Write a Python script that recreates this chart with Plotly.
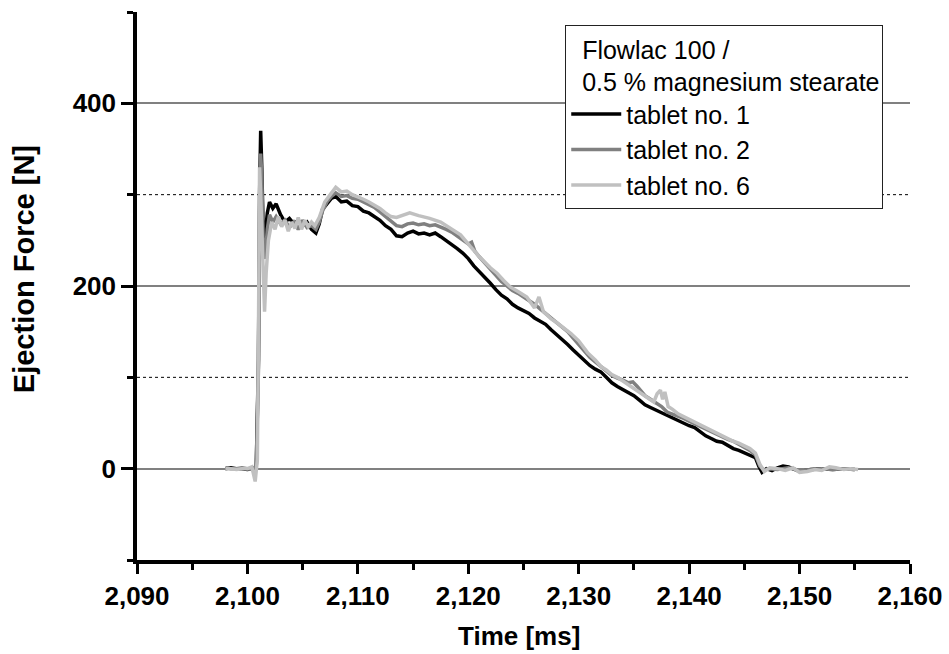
import plotly.graph_objects as go

# ---------------- data ----------------
t1 = [2098.0, 2098.5, 2099.0, 2099.5, 2100.0, 2100.5, 2100.8, 2101.0, 2101.1, 2101.2, 2101.3, 2101.45,
      2101.6, 2101.8, 2102.0, 2102.3, 2102.6, 2103.0, 2103.4, 2103.8, 2104.2, 2104.6, 2105.0, 2105.4,
      2105.8, 2106.2, 2106.5, 2106.8, 2107.2, 2107.6, 2108.0, 2108.5, 2109.0, 2109.5, 2110.0, 2110.5,
      2111.0, 2111.5, 2112.0, 2112.5, 2113.0, 2113.5, 2114.0, 2114.5, 2115.0, 2115.5, 2116.0, 2116.5,
      2117.0, 2117.5, 2118.0, 2118.5, 2119.0, 2119.5, 2120.0, 2120.5, 2121.0, 2121.5, 2122.0, 2122.5,
      2123.0, 2123.5, 2124.0, 2124.5, 2125.0, 2125.5, 2126.0, 2126.5, 2127.0, 2127.5, 2128.0, 2128.5,
      2129.0, 2129.5, 2130.0, 2130.5, 2131.0, 2131.5, 2132.0, 2132.5, 2133.0, 2133.5, 2134.0, 2134.5,
      2135.0, 2135.5, 2136.0, 2136.5, 2137.0, 2137.5, 2138.0, 2138.5, 2139.0, 2139.5, 2140.0, 2140.5,
      2141.0, 2141.5, 2142.0, 2142.5, 2143.0, 2143.5, 2144.0, 2144.5, 2145.0, 2145.5, 2146.0, 2146.3,
      2146.6, 2147.0, 2147.5, 2148.0, 2148.5, 2149.0, 2149.5, 2150.0, 2150.5, 2151.0, 2152.0, 2153.0,
      2154.0, 2155.0]
f1 = [0, 1, 0, 0, -1, 0, 2, 120, 300, 370, 330, 250,
      255, 280, 292, 285, 290, 278, 270, 274, 268, 272, 266, 270,
      262, 258, 268, 284, 290, 296, 298, 292, 293, 288, 287, 282,
      280, 276, 272, 266, 262, 255, 254, 258, 260, 257, 258, 256,
      258, 254, 250, 246, 241, 236, 230, 222, 216, 210, 203, 196,
      190, 186, 180, 176, 173, 170, 165, 162, 158, 152, 147, 142,
      136, 130, 124, 118, 113, 109, 106, 100, 94, 90, 87, 84,
      80, 75, 70, 67, 64, 61, 58, 56, 52, 50, 47, 45,
      40, 36, 33, 30, 29, 25, 22, 20, 17, 14, 12, 3,
      -4, 0, -2, 1, 3, 2, -1, -3, -2, -1, 0, -1,
      0, -1]

t2 = [2098.0, 2098.5, 2099.0, 2099.5, 2100.0, 2100.5, 2100.8, 2101.0, 2101.1, 2101.2, 2101.3, 2101.45,
      2101.6, 2101.8, 2102.0, 2102.3, 2102.6, 2103.0, 2103.4, 2103.8, 2104.2, 2104.6, 2105.0, 2105.4,
      2105.8, 2106.2, 2106.5, 2106.8, 2107.2, 2107.6, 2108.0, 2108.5, 2109.0, 2109.5, 2110.0, 2110.5,
      2111.0, 2111.5, 2112.0, 2112.5, 2113.0, 2113.5, 2114.0, 2114.5, 2115.0, 2115.5, 2116.0, 2116.5,
      2117.0, 2117.5, 2118.0, 2118.5, 2119.0, 2119.5, 2120.0, 2120.3, 2120.6, 2121.0, 2121.5, 2122.0,
      2122.5, 2123.0, 2123.5, 2124.0, 2124.5, 2125.0, 2125.5, 2126.0, 2126.5, 2127.0, 2127.5, 2128.0,
      2128.5, 2129.0, 2129.5, 2130.0, 2130.5, 2131.0, 2131.5, 2132.0, 2132.5, 2133.0, 2133.5, 2134.0,
      2134.5, 2134.9, 2135.3, 2135.7, 2136.0, 2136.5, 2137.0, 2137.5, 2138.0, 2138.5, 2139.0, 2139.5,
      2140.0, 2140.5, 2141.0, 2141.5, 2142.0, 2142.5, 2143.0, 2143.5, 2144.0, 2144.5, 2145.0, 2145.5,
      2146.0, 2146.4, 2146.8, 2147.2, 2148.0, 2149.0, 2150.0, 2151.0, 2152.0, 2153.0, 2154.0, 2155.0]
f2 = [1, 0, 0, 1, 0, -1, 3, 110, 280, 345, 320, 235,
      230, 262, 278, 270, 276, 268, 272, 264, 270, 262, 272, 264,
      266, 262, 270, 282, 292, 298, 302, 298, 299, 296, 295, 292,
      290, 286, 281, 276, 271, 266, 265, 268, 269, 267, 268, 266,
      267, 265, 262, 259, 255, 250, 246, 248, 238, 232, 225, 218,
      212, 205, 200, 195, 192, 188, 185, 180, 175, 170, 165, 160,
      155, 150, 143, 136, 129, 122, 117, 112, 107, 102, 99, 97,
      94, 95, 90, 85, 80, 76, 72, 68, 62, 60, 57, 55,
      52, 49, 46, 43, 40, 37, 34, 32, 30, 27, 24, 20,
      15, 3, -2, 0, -1, 1, -2, -1, 0, -1, 0, -1]

t6 = [2098.0, 2098.5, 2099.0, 2099.5, 2100.0, 2100.4, 2100.7, 2100.9, 2101.0, 2101.1, 2101.2, 2101.35,
      2101.55, 2101.7, 2101.9, 2102.2, 2102.5, 2102.8, 2103.1, 2103.4, 2103.7, 2104.0, 2104.3, 2104.6,
      2104.9, 2105.2, 2105.5, 2105.8, 2106.1, 2106.5, 2107.0, 2107.5, 2108.0, 2108.5, 2109.0, 2109.5,
      2110.0, 2110.5, 2111.0, 2111.5, 2112.0, 2112.5, 2113.0, 2113.5, 2114.0, 2114.7, 2115.5, 2116.5,
      2117.5, 2118.4, 2119.3, 2120.2, 2121.0, 2122.0, 2122.6, 2123.2, 2123.8, 2124.5, 2125.3, 2126.0,
      2126.4, 2126.8, 2127.5, 2128.0, 2128.6, 2129.3, 2130.0, 2130.8, 2131.5, 2132.0, 2132.5, 2133.0,
      2133.5, 2134.0, 2134.5, 2135.0, 2135.5, 2136.0, 2136.4, 2136.8, 2137.1, 2137.4, 2137.6, 2137.8,
      2138.1, 2138.5, 2139.0, 2139.5, 2140.0, 2140.5, 2141.0, 2141.5, 2142.0, 2142.5, 2143.0, 2143.5,
      2144.0, 2144.5, 2145.0, 2145.5, 2146.0, 2146.4, 2146.8, 2147.3, 2148.0, 2148.7, 2149.4, 2150.0,
      2150.7, 2151.4, 2152.0, 2152.7, 2153.3, 2154.0, 2154.6, 2155.3]
f6 = [0, 0, -1, 0, 0, 2, -14, 10, 150, 330, 300, 230,
      172, 215, 250, 270, 262, 276, 265, 272, 260, 270, 263, 275,
      262, 272, 265, 270, 266, 275, 292, 300, 308, 303, 304, 300,
      298, 295, 292, 289, 285, 280, 276, 275, 277, 280, 277, 274,
      270, 263, 256, 243, 232, 220, 214, 206, 199, 194, 188, 176,
      188, 172, 164, 160, 155, 148, 140, 127, 119, 112, 108, 103,
      100, 96, 92, 88, 84, 79, 76, 73, 82, 86, 76, 84,
      68, 65, 60, 57, 53, 51, 48, 45, 42, 39, 36, 33,
      30, 28, 25, 22, 17, 5, -3, 1, 0, -2, 1, -4,
      -3, -1, -2, 2, 1, -1, 0, -1]

series_names = ["tablet no. 1", "tablet no. 2", "tablet no. 6"]
series_colors = ["#000000", "#808080", "#c0c0c0"]
major_y = [0, 200, 400]
minor_grid_y = [100, 300]
minor_ticks_y = [-100, 100, 300, 500]
legend_title = "\u00a0\u00a0Flowlac 100 /<br>\u00a0\u00a00.5 % magnesium stearate"
x_title = "Time [ms]"
y_title = "Ejection Force [N]"

FONT = "Liberation Sans, Arial, Helvetica, sans-serif"

fig = go.Figure()
for t, f, name, col in zip([t1, t2, t6], [f1, f2, f6], series_names, series_colors):
    fig.add_trace(go.Scatter(x=t, y=f, mode="lines", name=name,
                             line=dict(color=col, width=3.5)))

for yv in minor_grid_y:
    fig.add_shape(type="line", xref="paper", yref="y", x0=0, x1=1, y0=yv, y1=yv,
                  line=dict(color="#000000", width=1, dash="dot"), layer="below")

fig.add_annotation(text=x_title, xref="paper", yref="paper", x=0.494, y=-0.139,
                   xanchor="center", yanchor="middle", showarrow=False,
                   font=dict(family=FONT, size=26, weight="bold", color="black"))
fig.add_annotation(text=y_title, xref="paper", yref="paper", x=-0.146, y=0.531,
                   xanchor="center", yanchor="middle", showarrow=False, textangle=-90,
                   font=dict(family=FONT, size=29, weight="bold", color="black"))

fig.update_layout(
    width=949, height=654,
    margin=dict(l=137, r=39, t=12, b=94),
    plot_bgcolor="white", paper_bgcolor="white",
    font=dict(family=FONT, color="black", size=24),
    showlegend=True,
    legend=dict(
        x=0.554, y=0.976, xanchor="left", yanchor="top",
        bordercolor="#222222", borderwidth=1, bgcolor="white",
        font=dict(family=FONT, size=25, color="black"),
        title=dict(text=legend_title,
                   font=dict(family=FONT, size=25, color="black"), side="top"),
        itemwidth=50, tracegroupgap=0,
    ),
    xaxis=dict(
        range=[2090, 2160], dtick=10, tick0=2090, tickformat=",d",
        ticks="outside", ticklen=10, tickwidth=3, tickcolor="black",
        showline=True, linewidth=3.5, linecolor="black",
        showgrid=False, zeroline=False, automargin=False,
        tickfont=dict(family=FONT, size=26, weight="bold"),
        minor=dict(dtick=5, ticks="outside", ticklen=6, tickwidth=3, tickcolor="black", showgrid=False),
    ),
    yaxis=dict(
        range=[-100, 500], tickvals=major_y,
        ticks="outside", ticklen=12, tickwidth=3, tickcolor="black",
        showline=True, linewidth=3.5, linecolor="black",
        showgrid=True, gridcolor="#808080", gridwidth=1.5, zeroline=False, automargin=False,
        tickfont=dict(family=FONT, size=26, weight="bold"),
        minor=dict(tickvals=minor_ticks_y, ticks="outside", ticklen=6, tickwidth=3,
                   tickcolor="black", showgrid=False),
    ),
)

fig.write_html("out.html")
